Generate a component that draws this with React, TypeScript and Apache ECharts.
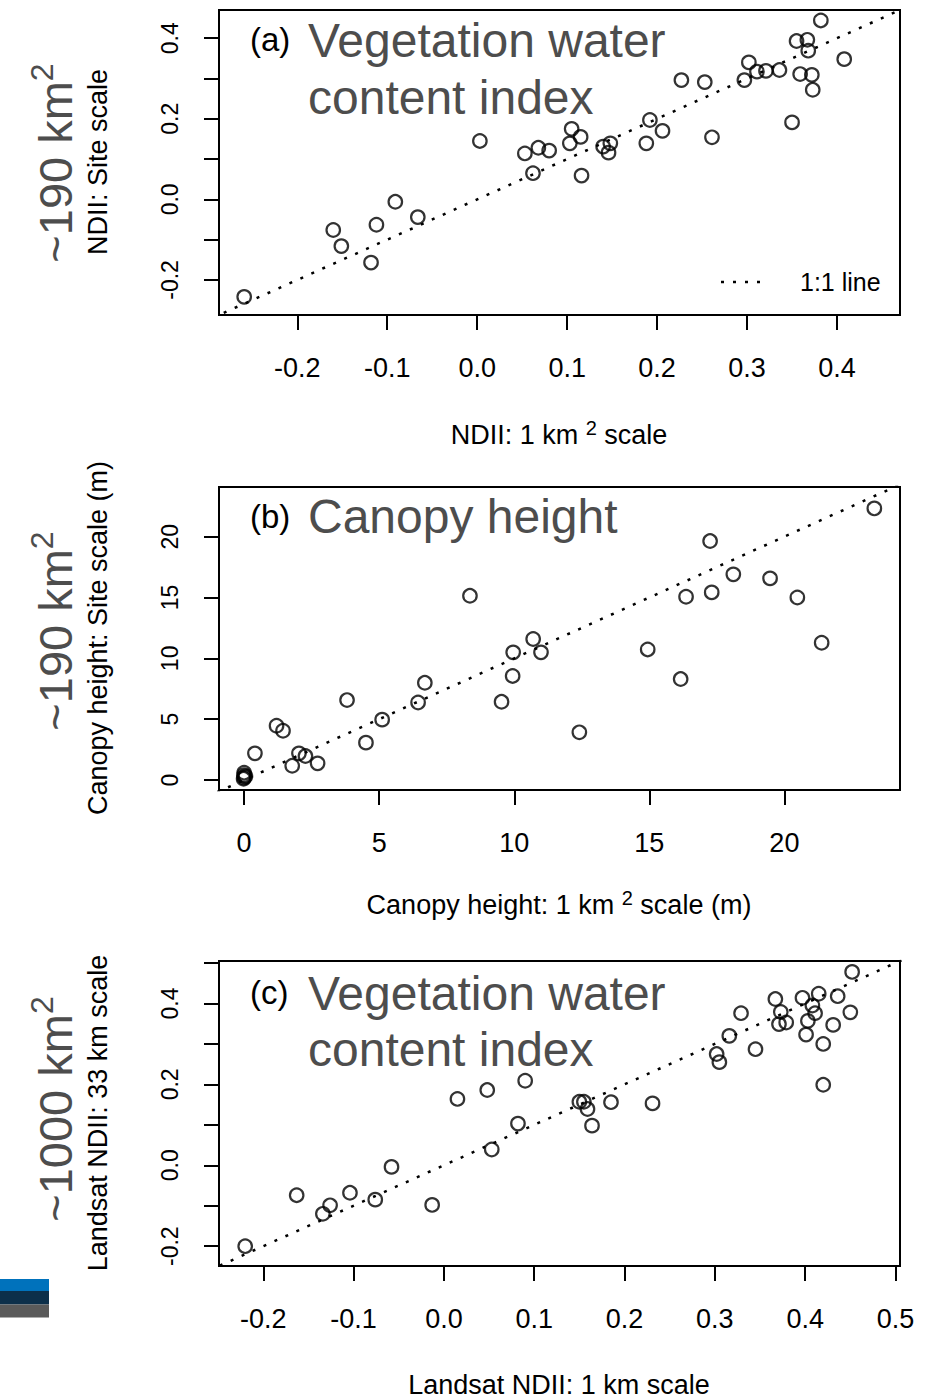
import React, { useEffect, useRef } from "react";
import * as echarts from "echarts";

// Panel (a): NDII, 1 km2 scale (x) vs site scale (y)
const aX = [-0.259, -0.160, -0.151, -0.118, -0.112, -0.091, -0.066, 0.003, 0.053, 0.062, 0.068, 0.080, 0.105, 0.103, 0.115, 0.116, 0.140, 0.148, 0.146, 0.188, 0.192, 0.206, 0.227, 0.253, 0.261, 0.297, 0.302, 0.311, 0.321, 0.336, 0.350, 0.355, 0.367, 0.368, 0.359, 0.372, 0.373, 0.382, 0.408];
const aY = [-0.242, -0.076, -0.116, -0.157, -0.063, -0.006, -0.044, 0.145, 0.114, 0.065, 0.128, 0.121, 0.175, 0.139, 0.155, 0.059, 0.131, 0.139, 0.116, 0.139, 0.197, 0.170, 0.296, 0.291, 0.154, 0.296, 0.340, 0.317, 0.319, 0.321, 0.191, 0.393, 0.396, 0.369, 0.311, 0.309, 0.272, 0.444, 0.348];

// Panel (b): canopy height (m)
const bX = [0, 0, 0, 0.05, -0.02, 0.40, 1.20, 1.44, 1.78, 2.03, 2.27, 2.72, 3.81, 4.51, 5.11, 6.44, 6.69, 8.36, 9.53, 9.94, 9.96, 10.70, 10.99, 12.41, 14.94, 16.16, 16.36, 17.25, 17.31, 18.11, 19.47, 20.48, 21.38, 23.33];
const bY = [0.2, 0.4, 0.6, 0.3, 0.1, 2.19, 4.46, 4.05, 1.17, 2.19, 1.97, 1.37, 6.57, 3.07, 4.96, 6.37, 7.99, 15.14, 6.43, 8.55, 10.49, 11.59, 10.49, 3.92, 10.73, 8.30, 15.06, 19.64, 15.42, 16.90, 16.57, 15.00, 11.28, 22.32];

// Panel (c): Landsat NDII, 1 km scale (x) vs 33 km scale (y)
const cX = [-0.220, -0.163, -0.134, -0.126, -0.104, -0.076, -0.058, -0.013, 0.015, 0.048, 0.082, 0.053, 0.090, 0.150, 0.155, 0.159, 0.164, 0.185, 0.231, 0.302, 0.305, 0.316, 0.329, 0.345, 0.367, 0.373, 0.371, 0.379, 0.397, 0.401, 0.403, 0.408, 0.411, 0.415, 0.420, 0.420, 0.431, 0.436, 0.450, 0.452];
const cY = [-0.200, -0.074, -0.120, -0.099, -0.068, -0.085, -0.004, -0.098, 0.164, 0.186, 0.103, 0.039, 0.209, 0.157, 0.157, 0.139, 0.098, 0.156, 0.153, 0.275, 0.255, 0.320, 0.376, 0.287, 0.411, 0.379, 0.349, 0.353, 0.414, 0.323, 0.357, 0.395, 0.376, 0.424, 0.300, 0.199, 0.347, 0.418, 0.378, 0.478];

// Axis ranges and ticks
const aRange = [-0.287, 0.470];
const bRangeX = [-0.93, 24.28];
const bRangeY = [-0.82, 24.08];
const cRange = [-0.249, 0.505];

const aXTicks = [-0.2, -0.1, 0.0, 0.1, 0.2, 0.3, 0.4];
const aYTicks = [-0.2, -0.1, 0.0, 0.1, 0.2, 0.3, 0.4];
const aYLabels = [-0.2, 0.0, 0.2, 0.4];
const bTicks = [0, 5, 10, 15, 20];
const cXTicks = [-0.2, -0.1, 0.0, 0.1, 0.2, 0.3, 0.4, 0.5];
const cYTicks = [-0.2, -0.1, 0.0, 0.1, 0.2, 0.3, 0.4, 0.5];
const cYLabels = [-0.2, 0.0, 0.2, 0.4];

const oneToOne = [-1, 30];

const FONT = "'Liberation Sans', Arial, Helvetica, sans-serif";
const GRAY = "#4d4d4d";

const zip = (xs: number[], ys: number[]) => xs.map((x, i) => [x, ys[i]]);

export default function App() {
  const ref = useRef<HTMLDivElement>(null);
  useEffect(() => {
    document.body.style.margin = "0";
    const chart = echarts.init(ref.current!, null, { renderer: "svg" });

    const grids = [
      { left: 219, top: 10, width: 681, height: 305 },
      { left: 219, top: 487, width: 681, height: 303 },
      { left: 219, top: 961, width: 681, height: 305 },
    ].map((g) => ({ ...g, show: true, borderColor: "#000", borderWidth: 2, backgroundColor: "transparent" }));

    const dec1 = (v: number) => (Math.abs(v) < 1e-9 ? "0.0" : v.toFixed(1));
    const int0 = (v: number) => String(Math.round(v));

    const xAxis = (gi: number, range: number[], ticks: number[], labels: number[], fmt: (v: number) => string) => ({
      type: "value",
      gridIndex: gi,
      position: "bottom",
      min: range[0],
      max: range[1],
      axisLine: { show: false, onZero: false },
      splitLine: { show: false },
      axisTick: { show: true, inside: false, length: 15, lineStyle: { color: "#000", width: 2 }, customValues: ticks },
      axisLabel: { show: true, customValues: labels, formatter: fmt, margin: 39, fontSize: 27, color: "#000", fontFamily: FONT, hideOverlap: false },
    });
    const yAxis = (gi: number, range: number[], ticks: number[], labels: number[], fmt: (v: number) => string) => ({
      type: "value",
      gridIndex: gi,
      position: "left",
      min: range[0],
      max: range[1],
      axisLine: { show: false, onZero: false },
      splitLine: { show: false },
      axisTick: { show: true, inside: false, length: 15, lineStyle: { color: "#000", width: 2 }, customValues: ticks },
      axisLabel: { show: true, rotate: 90, customValues: labels, formatter: fmt, margin: 38, fontSize: 23, color: "#000", fontFamily: FONT, hideOverlap: false },
    });

    const scatter = (gi: number, data: number[][]) => ({
      type: "scatter",
      xAxisIndex: gi,
      yAxisIndex: gi,
      data,
      symbol: "circle",
      symbolSize: 13.5,
      itemStyle: { color: "rgba(0,0,0,0)", borderColor: "#000", borderWidth: 2.2 },
      silent: true,
    });
    const line11 = (gi: number) => ({
      type: "line",
      xAxisIndex: gi,
      yAxisIndex: gi,
      data: oneToOne.map((v) => [v, v]),
      symbol: "none",
      clip: true,
      lineStyle: { color: "#000", width: 2.5, type: [3, 9] },
      silent: true,
    });

    const txt = (x: number, y: number, text: string, fontSize: number, fill: string, opts: any = {}) => ({
      type: "text",
      x,
      y,
      rotation: opts.rotation || 0,
      silent: true,
      style: {
        text,
        fontSize,
        fontFamily: FONT,
        fill,
        align: opts.align || "center",
        verticalAlign: "middle",
        rich: opts.rich,
      },
    });

    const supRich = (size: number, supSize: number, fill: string) => ({
      n: { fontSize: size, fontFamily: FONT, fill, lineHeight: size * 1.25 },
      s: { fontSize: supSize, fontFamily: FONT, fill, lineHeight: supSize, verticalAlign: "top" },
    });

    const R = Math.PI / 2;
    const graphic: any[] = [
      // Panel (a)
      txt(250, 39, "(a)", 33, "#000", { align: "left" }),
      txt(308, 40, "Vegetation water", 48, GRAY, { align: "left" }),
      txt(308, 97, "content index", 48, GRAY, { align: "left" }),
      { type: "line", silent: true, shape: { x1: 721, y1: 282, x2: 768, y2: 282 }, style: { stroke: "#000", lineWidth: 2.5, lineDash: [3, 9] } },
      txt(800, 282, "1:1 line", 25, "#000", { align: "left" }),
      txt(55, 163, "{n|~190 km}{s|2}", 47, GRAY, { rotation: R, rich: supRich(47, 32, GRAY) }),
      txt(98, 162, "NDII: Site scale", 27, "#000", { rotation: R }),
      txt(559, 435, "{n|NDII: 1 km }{s|2}{n| scale}", 27, "#000", { rich: supRich(27, 20, "#000") }),
      // Panel (b)
      txt(250, 516, "(b)", 33, "#000", { align: "left" }),
      txt(308, 516, "Canopy height", 48, GRAY, { align: "left" }),
      txt(55, 631, "{n|~190 km}{s|2}", 47, GRAY, { rotation: R, rich: supRich(47, 32, GRAY) }),
      txt(98, 638, "Canopy height: Site scale (m)", 27, "#000", { rotation: R }),
      txt(559, 905, "{n|Canopy height: 1 km }{s|2}{n| scale (m)}", 27, "#000", { rich: supRich(27, 20, "#000") }),
      // Panel (c)
      txt(250, 992, "(c)", 33, "#000", { align: "left" }),
      txt(308, 993, "Vegetation water", 48, GRAY, { align: "left" }),
      txt(308, 1049, "content index", 48, GRAY, { align: "left" }),
      txt(55, 1109, "{n|~1000 km}{s|2}", 47, GRAY, { rotation: R, rich: supRich(47, 32, GRAY) }),
      txt(98, 1113, "Landsat NDII: 33 km scale", 27, "#000", { rotation: R }),
      txt(559, 1385, "Landsat NDII: 1 km scale", 27, "#000"),
      // colour strip at bottom left
      { type: "rect", silent: true, shape: { x: 0, y: 1279, width: 49, height: 12 }, style: { fill: "#0072bc" } },
      { type: "rect", silent: true, shape: { x: 0, y: 1291, width: 49, height: 13.5 }, style: { fill: "#0c2f4a" } },
      { type: "rect", silent: true, shape: { x: 0, y: 1304.5, width: 49, height: 13 }, style: { fill: "#5a5a5a" } },
    ];

    const option: any = {
      animation: false,
      backgroundColor: "#fff",
      grid: grids,
      xAxis: [
        xAxis(0, aRange, aXTicks, aXTicks, dec1),
        xAxis(1, bRangeX, bTicks, bTicks, int0),
        xAxis(2, cRange, cXTicks, cXTicks, dec1),
      ],
      yAxis: [
        yAxis(0, aRange, aYTicks, aYLabels, dec1),
        yAxis(1, bRangeY, bTicks, bTicks, int0),
        yAxis(2, cRange, cYTicks, cYLabels, dec1),
      ],
      series: [
        line11(0),
        scatter(0, zip(aX, aY)),
        line11(1),
        scatter(1, zip(bX, bY)),
        line11(2),
        scatter(2, zip(cX, cY)),
      ],
      graphic,
    };
    chart.setOption(option);
    return () => chart.dispose();
  }, []);
  return <div ref={ref} style={{ width: 932, height: 1399 }} />;
}
